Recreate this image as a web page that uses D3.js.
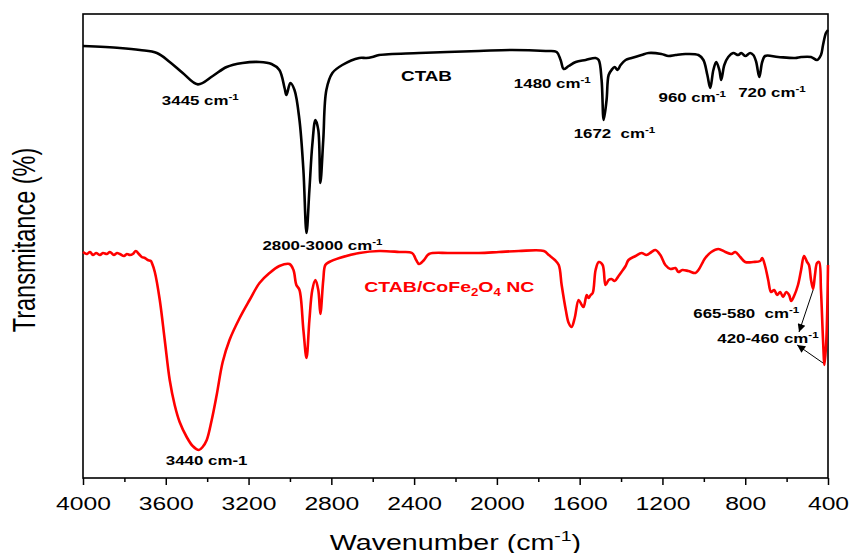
<!doctype html>
<html lang="en">
<head>
<meta charset="UTF-8" />
<title>FTIR spectra</title>
<script src="https://d3js.org/d3.v7.min.js"></script>
<style>
  html, body { margin: 0; padding: 0; background: #fff; overflow: hidden; }
  svg { display: block; }
  text { font-family: "Liberation Sans", Arial, sans-serif; white-space: pre; }
</style>
</head>
<body>
<svg id="chart" width="850" height="553"></svg>
<script>
// spectra: [wavenumber (cm-1), transmittance (a.u.)]
const ctab = [
  [4000,108],[3822,107.5],[3725,107],[3643,106.25],[3581,104],[3518,101.25],[3445,98.4],
  [3373,100.5],[3306,102.75],[3229,103.75],[3147,104],[3089,103.5],[3051,102],[3026,97.5],
  [3017,95.75],[2998,98.75],[2978,97],[2954,89.5],[2935,77],[2920,61.25],[2906,72],
  [2892,83.25],[2877,89.5],[2863,87],[2853,73.75],[2839,84.5],[2824,97],[2795,101.25],
  [2747,103.25],[2665,105],[2631,105],[2602,105.25],[2569,105.75],[2376,106.25],[2087,106.75],
  [1928,107],[1764,106.75],[1711,106.5],[1692,104.5],[1677,102.25],[1653,103],[1619,104],
  [1571,104.5],[1523,105],[1508,104.5],[1494,99.5],[1484,89.5],[1470,94.5],[1460,100.75],
  [1446,102],[1431,102.75],[1417,102],[1402,103.25],[1378,104.5],[1349,105],[1301,105.75],
  [1267,106.25],[1205,106],[1171,105.5],[1137,105.75],[1089,106],[1026,105.75],[1002,104.5],
  [983,100.75],[969,97.5],[954,102],[940,104],[925,102],[916,99.5],[901,103.25],[882,105.25],
  [858,106.25],[834,105.75],[819,106.25],[800,105.5],[776,106.25],[761,105.75],[747,104],
  [732,100.25],[718,104],[704,105.5],[641,105.25],[559,105],[530,105.25],[482,105.25],
  [453,104.5],[434,105.75],[424,108.25],[410,111.25],[400,112]
];

const ctabCoFe = [
  [4000,56.5],[3981,56],[3966,56.5],[3952,55.75],[3937,56.25],[3918,55.75],[3904,56.25],
  [3884,56],[3870,56.5],[3851,55.75],[3836,56.25],[3822,56],[3802,55.5],[3788,56],[3773,55.75],
  [3759,56],[3745,56.75],[3730,56],[3716,55.25],[3701,55],[3687,54.5],[3672,54.25],[3667,53.75],
  [3653,51.5],[3629,44.5],[3605,34.5],[3581,24.5],[3557,18.25],[3533,14],[3499,10.25],[3470,8],
  [3440,7],[3422,7.75],[3402,9.5],[3378,14.5],[3354,20.75],[3325,29],[3292,34.5],[3243,40],
  [3195,44.5],[3147,48.75],[3099,51.25],[3051,53],[3002,53.5],[2983,52],[2969,48.25],[2954,47],
  [2935,37],[2920,30],[2906,39.5],[2892,47],[2877,49.5],[2863,47],[2853,41],[2839,49.5],
  [2829,53.25],[2810,54],[2761,55],[2665,56.25],[2569,56.75],[2472,56.5],[2410,56.25],
  [2390,54.5],[2376,53.5],[2352,54.5],[2328,56],[2231,56.25],[2087,56.25],[1990,56.5],
  [1894,56.75],[1773,56.75],[1749,55.75],[1720,54.5],[1701,53.25],[1687,48.25],[1667,42],
  [1653,38.75],[1639,37.75],[1624,40],[1605,44.5],[1590,43.25],[1581,42.75],[1566,45.75],
  [1557,45],[1547,45.75],[1537,46.25],[1523,52],[1508,54],[1489,53.25],[1475,48.25],[1460,49.5],
  [1446,49.75],[1431,49.25],[1412,50.5],[1398,51.5],[1378,53],[1364,54.5],[1330,55.5],
  [1301,56.25],[1277,55.75],[1253,56.5],[1234,57],[1210,55.75],[1186,53.25],[1161,52.25],
  [1137,52.5],[1123,51.5],[1104,52],[1075,51.75],[1041,51.25],[1026,52],[993,55],[964,56.5],
  [930,57.25],[896,56.5],[867,56],[848,56.5],[824,55.25],[800,54],[761,54],[728,54.25],[718,55],
  [704,53],[689,49.5],[675,46.5],[660,47],[646,45.75],[631,46.5],[617,45.25],[602,46.5],
  [588,45.75],[578,44.25],[564,45.5],[545,48.25],[530,52],[516,55.5],[501,54],[492,53.25],
  [482,49.5],[472,47.25],[463,50.75],[453,53.75],[443,54],[434,47],[424,34.5],[417,28.25],
  [408,34.5],[400,53.25]
];

const majorTicks = [4000, 3600, 3200, 2800, 2400, 2000, 1600, 1200, 800, 400];
const minorTicks = [3800, 3400, 3000, 2600, 2200, 1800, 1400, 1000, 600];

// peak labels, anchored in data units (^{..} superscript, _{..} subscript)
const ctabLabels = [
  ["CTAB", 2463, 99.25],
  ["3445 cm^{-1}", 3619, 93.25],
  ["2800-3000 cm^{-1}", 3133, 57],
  ["1480 cm^{-1}", 1918, 97.5],
  ["1672  cm^{-1}", 1629, 85],
  ["960 cm^{-1}", 1219, 94],
  ["720 cm^{-1}", 834, 95.25]
];
const nanoName = ["CTAB/CoFe_{2}O_{4} NC", 2641, 46.5];
const nanoLabels = [
  ["3440 cm-1", 3600, 3.25],
  ["665-580  cm^{-1}", 1051, 40],
  ["420-460 cm^{-1}", 935, 33.75]
];
// arrows: [fromW, fromT, toW, toT]
const arrows = [
  [472, 47, 540, 36.5],
  [424, 28.75, 549, 33.25]
];

const SX = 1.3; // the original figure is stretched horizontally
const svg = d3.select("#chart");
const plotL = 83, plotR = 828, plotT = 14, plotB = 478;

const x = d3.scaleLinear().domain([4000, 400]).range([plotL, plotR]);
const y = d3.scaleLinear().domain([0, 116]).range([plotB, plotT]);

// frame
svg.append("rect")
  .attr("x", plotL).attr("y", plotT)
  .attr("width", plotR - plotL).attr("height", plotB - plotT)
  .attr("fill", "none").attr("stroke", "#000").attr("stroke-width", 1.6);

// x axis
const ax = svg.append("g").attr("transform", `translate(0,${plotB})`)
  .call(d3.axisBottom(x).tickValues(majorTicks).tickFormat(d3.format("d")).tickSize(7).tickSizeOuter(0));
ax.select(".domain").remove();
ax.selectAll(".tick line").attr("stroke", "#000").attr("stroke-width", 1.5);
ax.selectAll(".tick text")
  .attr("y", 32).attr("dy", null)
  .attr("fill", "#000")
  .attr("font-size", 19)
  .attr("font-family", "Liberation Sans, Arial, sans-serif")
  .attr("transform", `scale(${SX},1)`);

const axMinor = svg.append("g").attr("transform", `translate(0,${plotB})`)
  .call(d3.axisBottom(x).tickValues(minorTicks).tickSize(4).tickSizeOuter(0).tickFormat(""));
axMinor.select(".domain").remove();
axMinor.selectAll(".tick line").attr("stroke", "#000").attr("stroke-width", 1.5);

// rich text helper
function richText(sel, str, fs) {
  const parts = str.split(/(\^\{[^}]*\}|_\{[^}]*\})/).filter(s => s.length);
  let shift = 0;
  parts.forEach(p => {
    let target = 0, size = fs, txt = p;
    if (p.startsWith("^{")) { target = -fs * 0.42; size = fs * 0.68; txt = p.slice(2, -1); }
    else if (p.startsWith("_{")) { target = fs * 0.25; size = fs * 0.68; txt = p.slice(2, -1); }
    sel.append("tspan").attr("dy", target - shift).attr("font-size", size).text(txt);
    shift = target;
  });
}

// axis titles
const xt = svg.append("text")
  .attr("transform", `translate(${(plotL + plotR) / 2},550) scale(${SX},1)`)
  .attr("text-anchor", "middle").attr("fill", "#000");
richText(xt, "Wavenumber (cm^{-1})", 22);

svg.append("text")
  .attr("transform", `translate(35,${(plotT + plotB) / 2 - 6}) rotate(-90) scale(1,${SX})`)
  .attr("text-anchor", "middle").attr("font-size", 23.5).attr("fill", "#000")
  .text("Transmitance (%)");

// spectra
const line = d3.line()
  .x(d => x(d[0])).y(d => y(d[1]))
  .curve(d3.curveCatmullRom.alpha(0.5));

svg.append("path").datum(ctab)
  .attr("d", line).attr("fill", "none")
  .attr("stroke", "#000").attr("stroke-width", 2.6).attr("stroke-linejoin", "round");

svg.append("path").datum(ctabCoFe)
  .attr("d", line).attr("fill", "none")
  .attr("stroke", "#ff0000").attr("stroke-width", 2.6).attr("stroke-linejoin", "round");

// labels
function drawLabel([txt, w, t], color, fs) {
  const el = svg.append("text")
    .attr("transform", `translate(${x(w)},${y(t)}) scale(${SX},1)`)
    .attr("font-weight", "bold").attr("fill", color);
  richText(el, txt, fs);
}
ctabLabels.forEach(d => drawLabel(d, "#000", d[0] === "CTAB" ? 14.5 : 13));
nanoLabels.forEach(d => drawLabel(d, "#000", 13));
drawLabel(nanoName, "#ff0000", 15);

// arrows
svg.append("defs").append("marker")
  .attr("id", "head").attr("viewBox", "0 0 10 10")
  .attr("refX", 10).attr("refY", 5)
  .attr("markerWidth", 11).attr("markerHeight", 8)
  .attr("markerUnits", "userSpaceOnUse")
  .attr("orient", "auto")
  .append("path").attr("d", "M0,0 L10,5 L0,10 Z").attr("fill", "#000");

arrows.forEach(([w1, t1, w2, t2]) => {
  svg.append("line")
    .attr("x1", x(w1)).attr("y1", y(t1))
    .attr("x2", x(w2)).attr("y2", y(t2))
    .attr("stroke", "#000").attr("stroke-width", 1)
    .attr("marker-end", "url(#head)");
});
</script>
</body>
</html>
